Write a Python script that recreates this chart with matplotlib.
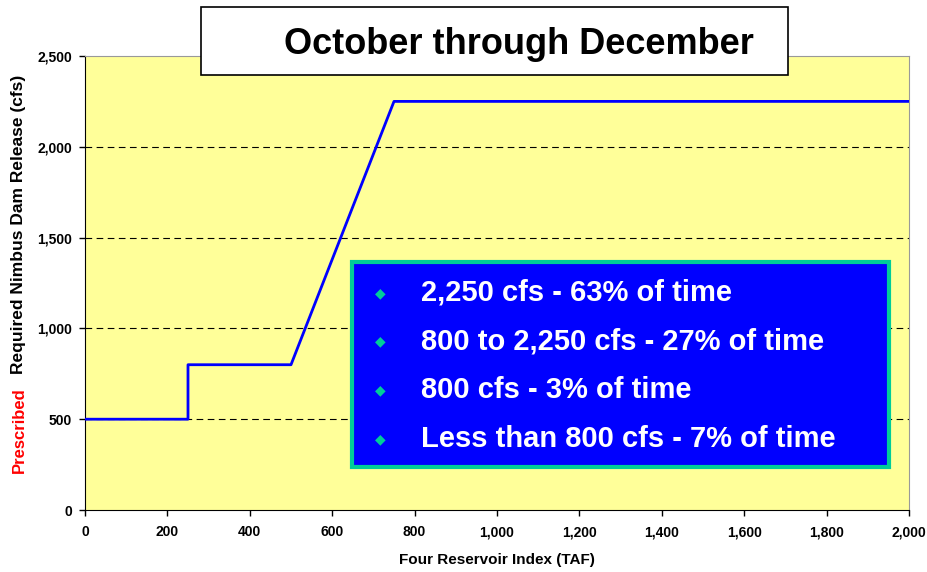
import matplotlib.pyplot as plt
from matplotlib.patches import Rectangle
from matplotlib.ticker import FuncFormatter

plt.rcParams['font.family'] = ['Liberation Sans', 'DejaVu Sans']

# step curve of required release vs index
index_taf = [0, 250, 250, 500, 750, 2000]
release_cfs = [500, 500, 800, 800, 2250, 2250]

bullets = ["2,250 cfs - 63% of time",
           "800 to 2,250 cfs - 27% of time",
           "800 cfs - 3% of time",
           "Less than 800 cfs - 7% of time"]

x_ticks = list(range(0, 2001, 200))
y_ticks = list(range(0, 2501, 500))

fig = plt.figure(figsize=(9.28, 5.72), dpi=100)
ax = fig.add_axes([85/928, 62/572, 824/928, 454/572])
ax.set_facecolor('#FFFF99')

ax.plot(index_taf, release_cfs, color='#0000FF', lw=2, zorder=3)

ax.set_xlim(0, 2000)
ax.set_ylim(0, 2500)
ax.set_xticks(x_ticks)
ax.set_yticks(y_ticks)
fmt = FuncFormatter(lambda v, p: f"{int(v):,}")
ax.xaxis.set_major_formatter(fmt)
ax.yaxis.set_major_formatter(fmt)
for lab in ax.get_xticklabels() + ax.get_yticklabels():
    lab.set_fontweight('bold')
    lab.set_fontsize(10)
ax.tick_params(direction='out', length=4.5, width=1, color='black')
ax.tick_params(axis='x', pad=6.5)
ax.tick_params(axis='y', pad=5)

for yv in y_ticks[1:-1]:
    ax.axhline(yv, color='black', lw=0.8, ls=(0, (6, 4)), zorder=1)

ax.spines['top'].set_color('#999999')
ax.spines['right'].set_color('#999999')
ax.spines['top'].set_linewidth(0.8)
ax.spines['right'].set_linewidth(0.8)

fig.text(497/928, 1 - 560/572, "Four Reservoir Index (TAF)", fontsize=11,
         fontweight='bold', ha='center', va='center')

# two-colour y label
fig.text(19/928, 1 - 430/572, "Prescribed", rotation=90, color='red',
         fontsize=12, fontweight='bold', ha='center', va='center')
fig.text(19/928, 1 - 224/572, "Required Nimbus Dam Release (cfs)", rotation=90,
         color='black', fontsize=12.5, fontweight='bold', ha='center', va='center')

# title box
fig.patches.append(Rectangle((201/928, 1 - 75/572), 587/928, 68/572,
                             transform=fig.transFigure, facecolor='white',
                             edgecolor='black', lw=1.2, zorder=5))
fig.text(519/928, 1 - 44/572, "October through December", fontsize=26,
         fontweight='bold', ha='center', va='center', zorder=6)

# legend style box
fig.patches.append(Rectangle((352/928, 1 - 467/572), 537/928, 205/572,
                             transform=fig.transFigure, facecolor='#0000FF',
                             edgecolor='#00CC99', lw=3, zorder=5))
row_y = [293, 341, 390, 439]
for ry, txt in zip(row_y, bullets):
    fig.text(380/928, 1 - ry/572, "\u25C6", color='#00CC99', fontsize=10,
             ha='center', va='center', family=['DejaVu Sans'], zorder=6)
    fig.text(421/928, 1 - ry/572, txt, color='white', fontsize=21,
             fontweight='bold', ha='left', va='center', zorder=6)

fig.savefig('out.png', dpi=100)
